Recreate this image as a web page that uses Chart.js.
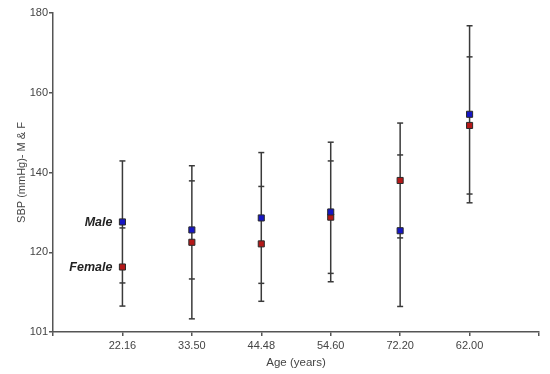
<!DOCTYPE html>
<html>
<head>
<meta charset="utf-8">
<script src="https://cdn.jsdelivr.net/npm/chart.js@4"></script>
<style>
  html, body { margin: 0; padding: 0; background: #fff; }
  #wrap { width: 550px; height: 374px; }
</style>
</head>
<body>
<div id="wrap"><canvas id="c" width="550" height="374"></canvas></div>
<script>
// Categories (age groups, as printed on the x axis)
const ageLabels = ['22.16', '33.50', '44.48', '54.60', '72.20', '62.00'];
// Mean SBP values
const maleMean   = [127.6, 125.6, 128.6, 130.1, 125.4, 154.6];
const femaleMean = [116.3, 122.5, 122.1, 128.8, 138.0, 151.8];
// Error (± SD) values
const maleErr    = [15.3, 12.3, 16.4, 17.5, 19.0, 22.2];
const femaleErr  = [9.8, 19.2, 14.4, 14.1, 14.4, 17.2];
// Y tick labels as printed
const yTickValues = [100, 120, 140, 160, 180];
const yTickLabels = ['101', '120', '140', '160', '180'];
// Series names
const seriesNames = ['Male', 'Female'];

const FONT = 'Liberation Sans, Arial, sans-serif';

const errorBarPlugin = {
  id: 'errorBars',
  beforeDatasetsDraw(chart) {
    const ctx = chart.ctx;
    const xs = chart.scales.x, ys = chart.scales.y;
    ctx.save();
    ctx.strokeStyle = '#3a3a3a';
    ctx.lineWidth = 1.5;
    const sets = [[maleMean, maleErr], [femaleMean, femaleErr]];
    ageLabels.forEach((_, i) => {
      const px = xs.getPixelForValue(i + 1);
      let lo = Infinity, hi = -Infinity;
      sets.forEach(([m, e]) => { lo = Math.min(lo, m[i] - e[i]); hi = Math.max(hi, m[i] + e[i]); });
      ctx.beginPath();
      ctx.moveTo(px, ys.getPixelForValue(hi));
      ctx.lineTo(px, ys.getPixelForValue(lo));
      ctx.stroke();
      sets.forEach(([m, e]) => {
        [m[i] - e[i], m[i] + e[i]].forEach(v => {
          const py = ys.getPixelForValue(v);
          ctx.beginPath();
          ctx.moveTo(px - 3, py);
          ctx.lineTo(px + 3, py);
          ctx.stroke();
        });
      });
    });
    ctx.restore();
  },
  afterDatasetsDraw(chart) {
    const ctx = chart.ctx;
    ctx.save();
    ctx.font = 'italic bold 12.5px ' + FONT;
    ctx.fillStyle = '#222';
    ctx.textAlign = 'right';
    ctx.textBaseline = 'middle';
    chart.data.datasets.forEach((ds, di) => {
      const el = chart.getDatasetMeta(di).data[0];
      ctx.fillText(seriesNames[di], el.x - 10, el.y + 1);
    });
    ctx.restore();
  }
};

const toPts = arr => arr.map((v, i) => ({ x: i + 1, y: v }));

new Chart(document.getElementById('c'), {
  type: 'scatter',
  data: {
    datasets: [
      {
        label: seriesNames[0],
        data: toPts(maleMean),
        pointStyle: 'rect',
        pointRadius: 4.3,
        backgroundColor: '#1616c4',
        borderColor: '#2a2a2a',
        borderWidth: 1
      },
      {
        label: seriesNames[1],
        data: toPts(femaleMean),
        pointStyle: 'rect',
        pointRadius: 4.3,
        backgroundColor: '#b41818',
        borderColor: '#2a2a2a',
        borderWidth: 1
      }
    ]
  },
  options: {
    responsive: false,
    animation: false,
    devicePixelRatio: 1,
    layout: { padding: { left: 0, right: 11, top: 13, bottom: 0 } },
    plugins: { legend: { display: false }, tooltip: { enabled: false } },
    scales: {
      x: {
        type: 'linear',
        min: 0, max: 7,
        afterFit(s) { s.height = 42; },
        afterBuildTicks(s) { s.ticks = [0,1,2,3,4,5,6,7].map(v => ({ value: v })); },
        ticks: {
          autoSkip: false,
          maxRotation: 0,
          padding: 3,
          color: '#444',
          font: { family: FONT, size: 11 },
          callback: v => (v >= 1 && v <= ageLabels.length) ? ageLabels[v - 1] : ''
        },
        grid: { drawOnChartArea: false, drawTicks: true, tickLength: 4, color: '#555', lineWidth: 1.5 },
        border: { color: '#555', width: 1.5 },
        title: {
          display: true,
          text: 'Age (years)',
          color: '#444',
          font: { family: FONT, size: 11.5 },
          padding: { top: 0, bottom: 4 }
        }
      },
      y: {
        type: 'linear',
        min: 100, max: 180,
        afterFit(s) { s.width = 53; },
        afterBuildTicks(s) { s.ticks = yTickValues.map(v => ({ value: v })); },
        ticks: {
          padding: 1,
          color: '#444',
          font: { family: FONT, size: 11 },
          callback: v => { const k = yTickValues.indexOf(v); return k >= 0 ? yTickLabels[k] : ''; }
        },
        grid: { drawOnChartArea: false, drawTicks: true, tickLength: 4, color: '#555', lineWidth: 1.5 },
        border: { color: '#555', width: 1.5 },
        title: {
          display: true,
          text: 'SBP (mmHg)- M & F',
          color: '#444',
          font: { family: FONT, size: 11 },
          padding: { top: 15, bottom: 0 }
        }
      }
    }
  },
  plugins: [errorBarPlugin]
});
</script>
</body>
</html>
